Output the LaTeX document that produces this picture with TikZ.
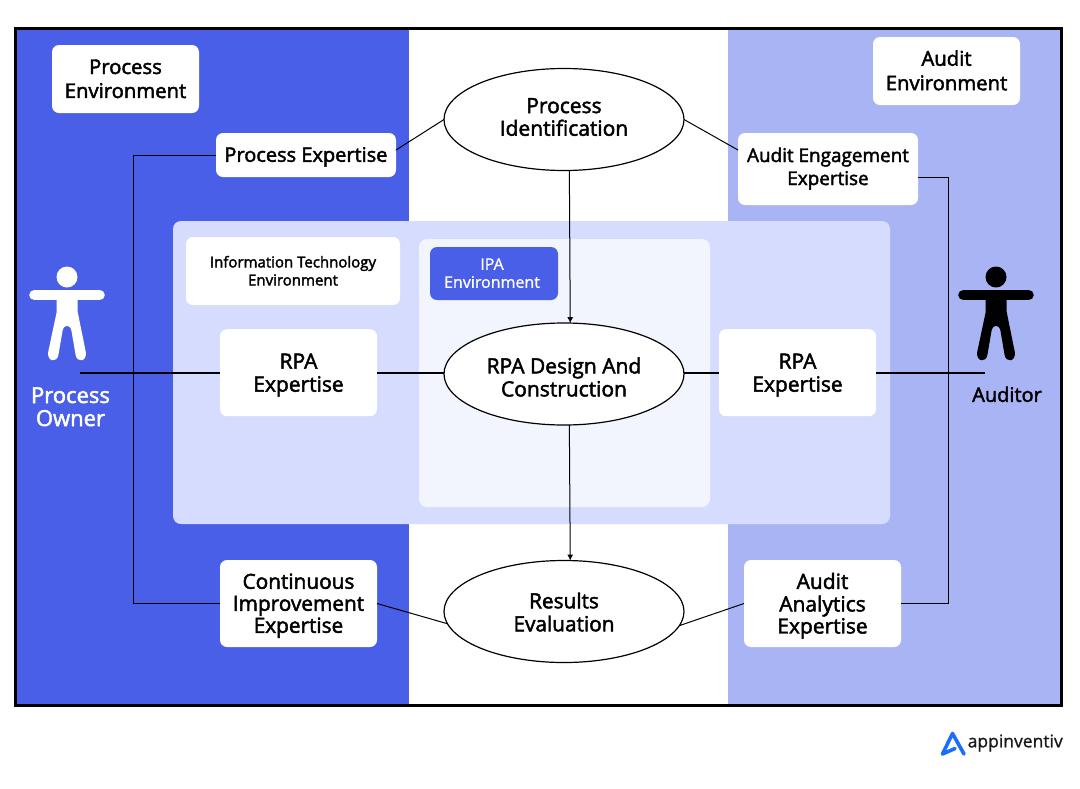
\documentclass[tikz,border=0pt]{standalone}
\usepackage{fontspec}
\setmainfont{Open Sans}[FakeBold=2.2]
\newfontfamily\plainf{Open Sans}[FakeBold=1]
\usetikzlibrary{shapes.geometric,arrows.meta}
\definecolor{blueA}{HTML}{4A5FE8}
\definecolor{lavA}{HTML}{A9B4F5}
\definecolor{panelA}{HTML}{D6DCFE}
\definecolor{innerA}{HTML}{F2F5FE}
\definecolor{logoA}{HTML}{1A6DFF}
\newcommand{\lbl}[2][0pt]{\smash{\raisebox{\dimexpr 0.2\baselineskip-0.6em+#1\relax}{\begin{tabular}{@{}c@{}}#2\end{tabular}}}}
\newcommand{\fs}[2]{\fontsize{#1}{#2}\selectfont}
\tikzset{
  x=1pt,y=-1pt,
  boxa/.style={fill=white,rounded corners=7pt,inner sep=0pt,outer sep=0pt,text=black,font=\fs{20}{23}},
  ell/.style={ellipse,draw=black,line width=1.2pt,fill=white,inner sep=0pt,outer sep=0pt,minimum width=240pt,minimum height=102pt,font=\fs{20}{23}},
  thin line/.style={draw=black,line width=1pt},
  thick line/.style={draw=black,line width=1.8pt},
  arr/.style={thin line,-{Latex[length=6pt,width=6pt]}},
  who/.style={inner sep=0pt,outer sep=0pt,font=\fs{20}{23}},
}
\newcommand{\person}[2]{%
  \begin{scope}[shift={(#1,0)}]
  \fill[#2] (67,277) circle[radius=10.5];
  \draw[#2,line width=10.6pt,line cap=round] (34.5,295) -- (99.5,295);
  \fill[#2] (56.7,295) -- (77.7,295) -- (77.7,312)
     -- (85.8,352) .. controls (87,362) and (77,363) .. (75.6,355) -- (71.5,331)
     .. controls (70,324) and (64,324) .. (62.5,331) -- (58.4,355)
     .. controls (57,363) and (47,362) .. (48.2,352) -- (56.7,312) -- cycle;
  \end{scope}}
\begin{document}
\begin{tikzpicture}
\useasboundingbox (0,0) rectangle (1080,788);
\fill[white] (0,0) rectangle (1080,788);
\fill[blueA] (15.5,28.5) rectangle (409,705.5);
\fill[lavA] (728,28.5) rectangle (1061.5,705.5);
\draw[black,line width=3pt] (15.5,28.5) rectangle (1061.5,705.5);
\fill[panelA,rounded corners=8pt] (173,221) rectangle (890,524);
\fill[innerA,rounded corners=8pt] (419,239) rectangle (710,507);

\person{0}{white}
\person{929}{black}

\node[boxa,minimum width=147pt,minimum height=68pt,font=\fs{20.3}{24}] (penv) at (125.5,79) {\lbl{Process\\Environment}};
\node[boxa,minimum width=147pt,minimum height=68pt,font=\fs{20.3}{24.5}] (aenv) at (946.5,71) {\lbl{Audit\\Environment}};
\node[boxa,minimum width=180pt,minimum height=44pt] (pe) at (306,155) {\lbl{Process Expertise}};
\node[boxa,minimum width=180pt,minimum height=72pt,font=\fs{18.9}{23}] (ae) at (828,169) {\lbl[2.5pt]{Audit Engagement\\Expertise}};
\node[boxa,minimum width=214pt,minimum height=68pt,font=\fs{15}{18}] (it) at (293,271) {\lbl{Information Technology\\Environment}};
\node[boxa,fill=blueA,text=white,minimum width=128pt,minimum height=53pt,font=\plainf\fs{16}{18}] (ipa) at (494,273.5) {\hspace*{-4pt}\lbl{IPA\\Environment}};
\node[boxa,minimum width=157pt,minimum height=87pt,font=\fs{21}{23}] (rl) at (298.5,372.7) {\lbl{RPA\\Expertise}};
\node[boxa,minimum width=157pt,minimum height=87pt,font=\fs{21}{23}] (rr) at (797.5,372.7) {\lbl{RPA\\Expertise}};
\node[boxa,minimum width=157pt,minimum height=87pt,font=\fs{20.8}{22}] (ci) at (298.5,603.5) {\lbl{Continuous\\Improvement\\Expertise}};
\node[boxa,minimum width=157pt,minimum height=87pt,font=\fs{21}{22}] (aa) at (822.5,603.5) {\lbl{Audit\\Analytics\\Expertise}};

\node[ell,font=\fs{21}{22}] (pid) at (564,119.5) {\lbl[2.5pt]{Process\\Identification}};
\node[ell,font=\fs{21}{23}] (rpa) at (564,374) {\lbl[-3.5pt]{RPA Design And\\Construction}};
\node[ell,font=\fs{20.8}{23}] (res) at (564,611.5) {\lbl[-1pt]{Results\\Evaluation}};

\node[who,text=white,font=\fs{22}{23}] (po) at (70.5,406.5) {\lbl{Process\\Owner}};
\node[who,text=black] (au) at (1007,395) {\lbl{Auditor}};

\coordinate (pa) at (80,372.7);
\coordinate (aa2) at (985,372.7);
\coordinate (lb) at (133,0);
\coordinate (rb) at (948,0);
\draw[thin line] (pe.west) -- (pe.west -| lb) -- (ci.west -| lb) -- (ci.west);
\draw[thin line] ([yshift=-8pt]ae.east) -- ([yshift=-8pt]ae.east -| rb) -- (aa.east -| rb) -- (aa.east);
\draw[thick line] (pa) -- (rl.west);
\draw[thick line] (rl.east) -- (rl.east -| rpa.west);
\draw[thick line] (rr.west -| rpa.east) -- (rr.west);
\draw[thick line] (rr.east) -- (aa2);
\draw[thin line] ([yshift=5pt]pe.east) -- (pid.180);
\draw[thin line] (pid.0) -- ([yshift=19pt]ae.west);
\draw[thin line] (ci.east) -- (res.186);
\draw[thin line] (res.353.4) -- (aa.west);
\draw[arr] (pid.276.9) -- (rpa.83.1);
\draw[arr] (rpa.276.9) -- (res.83.1);

\draw[logoA,line width=3.6pt,line join=round,line cap=round] (964,754) -- (952.5,733.5) -- (942.5,754) -- (955,748.5);
\node[inner sep=0pt,anchor=west,text=black!90,font=\plainf\fs{17.5}{19}] (logo) at (967.5,743) {appinventiv};
\end{tikzpicture}
\end{document}
